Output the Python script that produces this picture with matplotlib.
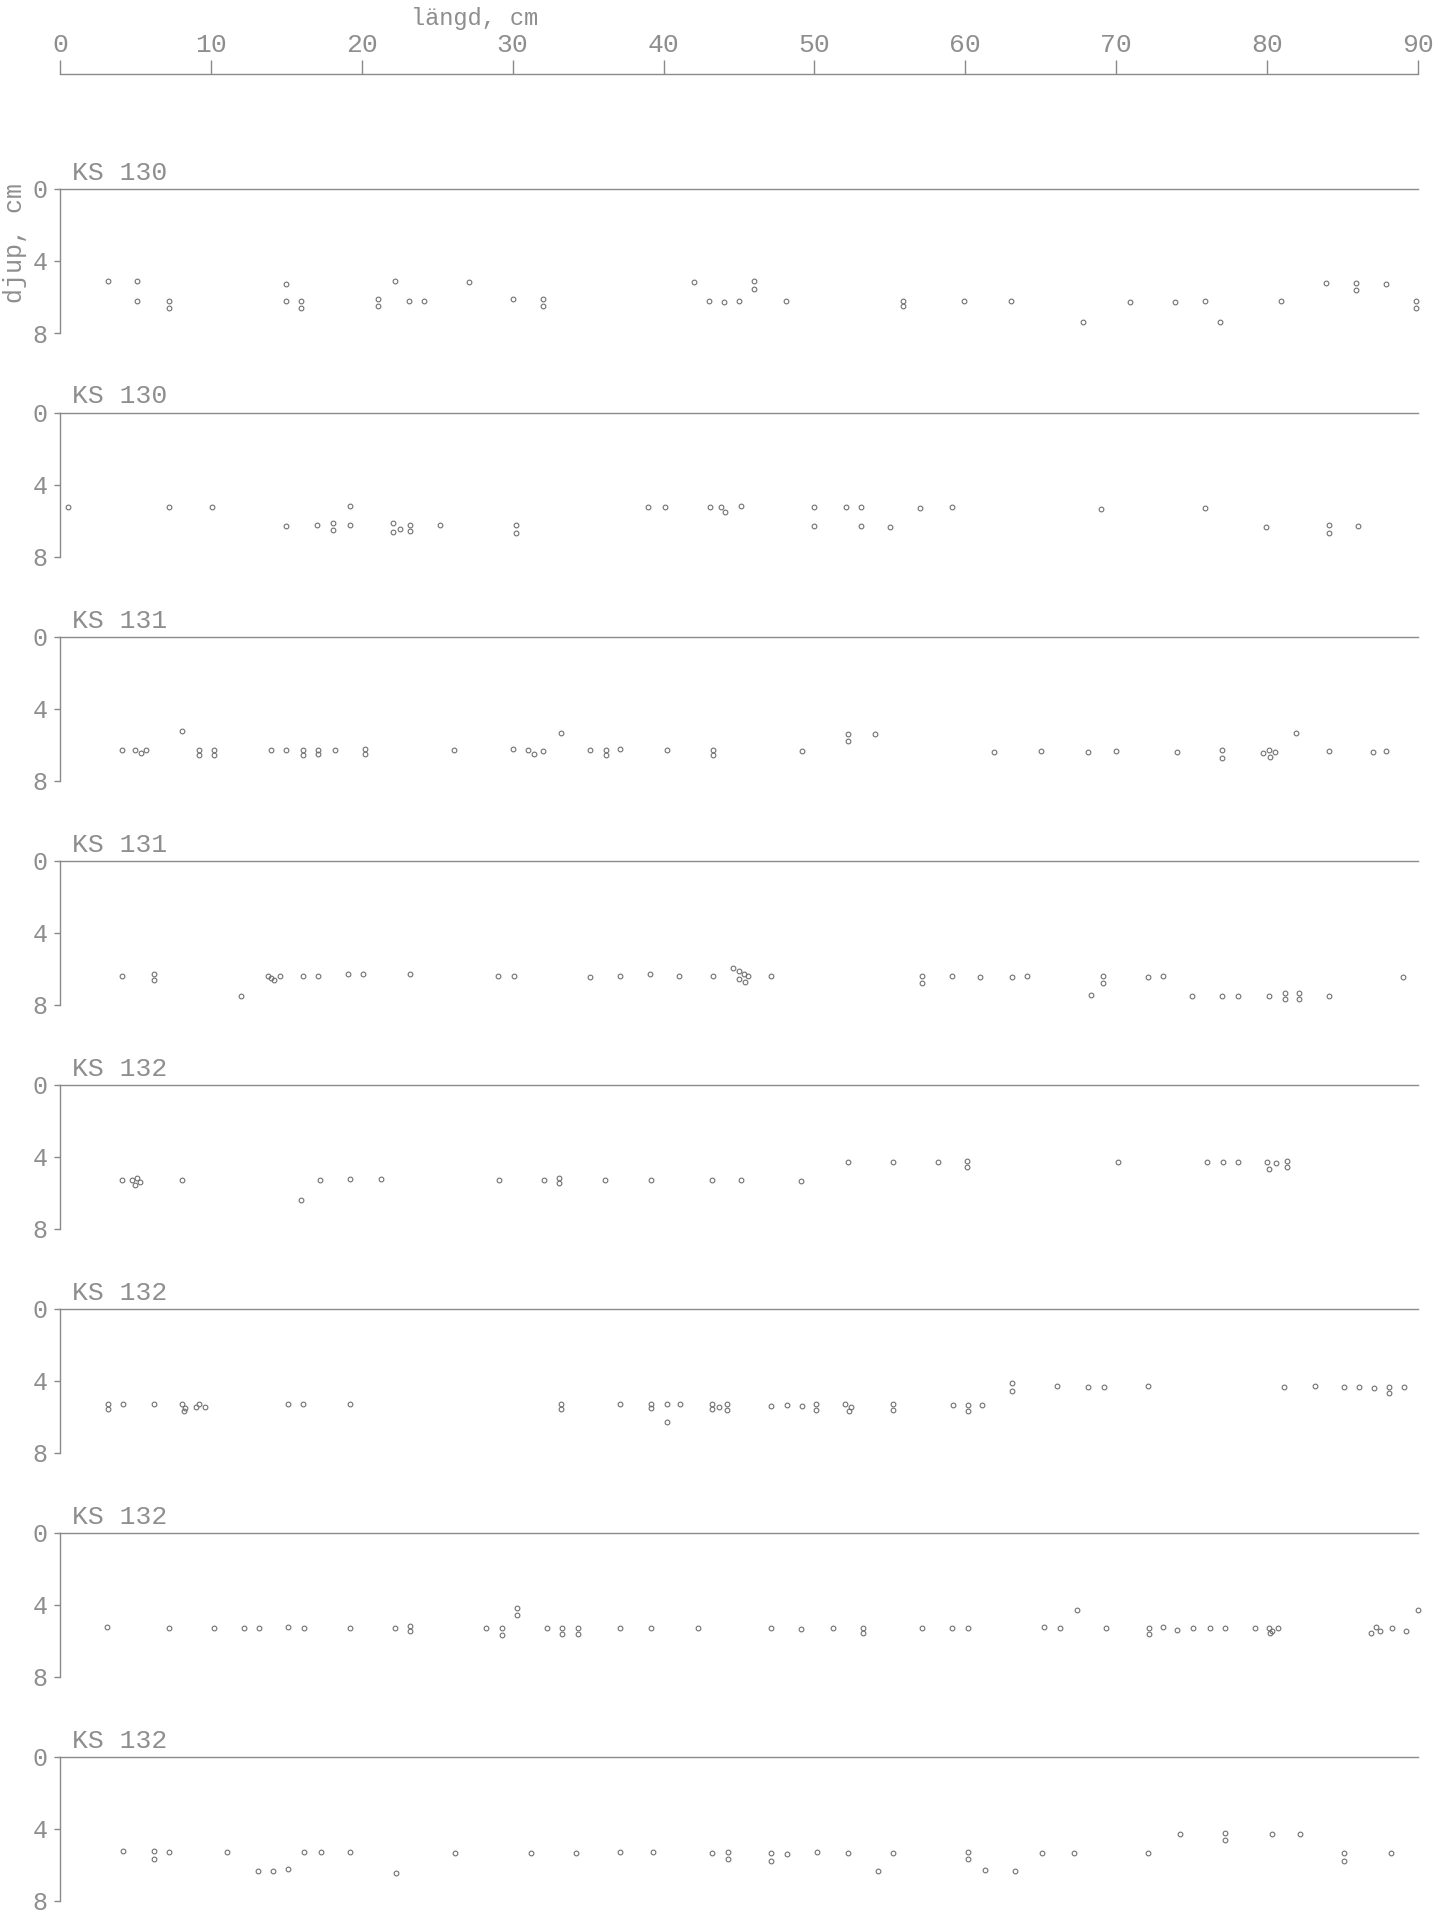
import matplotlib
matplotlib.use("Agg")
import matplotlib.pyplot as plt

# Core profiles: horizontal position (cm along core) and depth (cm)
PANEL_LABELS = ["KS 130", "KS 130", "KS 131", "KS 131",
                "KS 132", "KS 132", "KS 132", "KS 132"]

p1_x = [3.2, 5.1, 5.1, 7.2, 7.2, 15.0, 15.0, 16.0, 16.0, 21.1, 21.1, 22.2, 23.1, 24.1,
        27.1, 30.0, 32.0, 32.0, 42.0, 43.0, 44.0, 45.0, 46.0, 46.0, 48.1, 55.9, 55.9,
        59.9, 63.0, 67.8, 70.9, 73.9, 75.9, 76.9, 80.9, 83.9, 85.9, 85.9, 87.9, 89.9, 89.9]
p1_d = [5.1, 5.1, 6.2, 6.2, 6.6, 5.3, 6.2, 6.2, 6.6, 6.1, 6.5, 5.1, 6.2, 6.2,
        5.15, 6.1, 6.1, 6.5, 5.15, 6.2, 6.3, 6.2, 5.1, 5.55, 6.2, 6.2, 6.5,
        6.2, 6.2, 7.4, 6.3, 6.3, 6.2, 7.4, 6.2, 5.2, 5.2, 5.6, 5.3, 6.2, 6.6]

p2_x = [0.5, 7.2, 10.1, 15.0, 17.0, 18.1, 18.1, 19.2, 19.2, 22.1, 22.1, 22.5, 23.2, 23.2,
        25.2, 30.2, 30.2, 39.0, 40.1, 43.1, 43.8, 44.1, 45.1, 50.0, 50.0, 52.1, 53.1, 53.1,
        55.0, 57.0, 59.1, 69.0, 75.9, 79.9, 84.1, 84.1, 86.0]
p2_d = [5.2, 5.2, 5.2, 6.3, 6.2, 6.1, 6.5, 5.15, 6.2, 6.1, 6.6, 6.45, 6.2, 6.55,
        6.2, 6.25, 6.65, 5.2, 5.2, 5.2, 5.2, 5.5, 5.15, 5.2, 6.3, 5.2, 5.2, 6.3,
        6.35, 5.3, 5.2, 5.35, 5.3, 6.35, 6.2, 6.65, 6.3]

p3_x = [4.1, 5.0, 5.4, 5.7, 8.1, 9.2, 9.2, 10.2, 10.2, 14.0, 15.0, 16.1, 16.1, 17.1, 17.1,
        18.2, 20.2, 20.2, 26.1, 30.0, 31.0, 31.4, 32.0, 33.2, 35.1, 36.2, 36.2, 37.1, 40.2,
        43.3, 43.3, 49.2, 52.2, 52.2, 54.0, 61.9, 65.0, 68.1, 70.0, 74.0, 77.0, 77.0, 79.7,
        80.1, 80.2, 80.5, 81.9, 84.1, 87.0, 87.9]
p3_d = [6.3, 6.3, 6.45, 6.3, 5.2, 6.25, 6.55, 6.25, 6.55, 6.3, 6.3, 6.25, 6.55, 6.25, 6.5,
        6.3, 6.2, 6.5, 6.3, 6.2, 6.3, 6.5, 6.35, 5.35, 6.3, 6.25, 6.55, 6.2, 6.3,
        6.25, 6.55, 6.35, 5.4, 5.8, 5.4, 6.4, 6.35, 6.4, 6.35, 6.4, 6.3, 6.7, 6.45,
        6.25, 6.65, 6.4, 5.35, 6.35, 6.4, 6.35]

p4_x = [4.1, 6.2, 6.2, 12.0, 13.8, 14.0, 14.2, 14.6, 16.1, 17.1, 19.1, 20.1, 23.2, 29.0,
        30.1, 35.1, 37.1, 39.1, 41.0, 43.3, 44.6, 45.0, 45.3, 45.6, 45.0, 45.4, 47.1, 57.1,
        57.1, 59.1, 61.0, 63.1, 64.1, 68.3, 69.1, 69.1, 72.1, 73.1, 75.0, 77.0, 78.1, 80.1,
        81.2, 81.2, 82.1, 82.1, 84.1, 89.0]
p4_d = [6.4, 6.3, 6.6, 7.5, 6.4, 6.5, 6.6, 6.4, 6.4, 6.4, 6.3, 6.3, 6.3, 6.4,
        6.4, 6.45, 6.4, 6.3, 6.4, 6.4, 5.95, 6.1, 6.3, 6.4, 6.55, 6.7, 6.4, 6.4,
        6.8, 6.4, 6.45, 6.45, 6.4, 7.45, 6.4, 6.8, 6.45, 6.4, 7.5, 7.5, 7.5, 7.5,
        7.35, 7.65, 7.35, 7.65, 7.5, 6.45]

p5_x = [4.1, 4.8, 5.1, 5.3, 5.0, 8.1, 16.0, 17.2, 19.2, 21.3, 29.1, 32.1, 33.1, 33.1,
        36.1, 39.2, 43.2, 45.1, 49.1, 52.2, 55.2, 58.2, 60.1, 60.1, 70.1, 76.0, 77.1,
        78.1, 80.0, 80.1, 80.6, 81.3, 81.3]
p5_d = [5.3, 5.25, 5.15, 5.4, 5.55, 5.3, 6.4, 5.25, 5.2, 5.2, 5.3, 5.3, 5.15, 5.45,
        5.25, 5.25, 5.3, 5.25, 5.35, 4.25, 4.3, 4.3, 4.2, 4.55, 4.3, 4.3, 4.3,
        4.3, 4.3, 4.65, 4.35, 4.2, 4.55]

p6_x = [3.2, 3.2, 4.2, 6.2, 8.1, 8.3, 8.2, 9.0, 9.2, 9.6, 15.1, 16.1, 19.2, 33.2, 33.2,
        37.1, 39.2, 39.2, 40.2, 40.2, 41.1, 43.2, 43.2, 43.7, 44.2, 44.2, 47.1, 48.2, 49.2,
        50.1, 50.1, 52.0, 52.4, 52.3, 55.2, 55.2, 59.2, 60.2, 60.2, 61.1, 63.1, 63.1, 66.1,
        68.1, 69.2, 72.1, 81.1, 83.2, 85.1, 86.1, 87.1, 88.1, 88.1, 89.1]
p6_d = [5.25, 5.55, 5.25, 5.25, 5.25, 5.5, 5.65, 5.45, 5.25, 5.45, 5.25, 5.3, 5.3, 5.25, 5.55,
        5.3, 5.25, 5.5, 5.25, 6.3, 5.25, 5.25, 5.55, 5.45, 5.3, 5.6, 5.4, 5.35, 5.4,
        5.3, 5.6, 5.3, 5.45, 5.65, 5.3, 5.6, 5.35, 5.35, 5.65, 5.35, 4.1, 4.55, 4.3,
        4.35, 4.35, 4.25, 4.35, 4.25, 4.35, 4.35, 4.4, 4.35, 4.65, 4.35]

p7_x = [3.1, 7.2, 10.2, 12.2, 13.2, 15.1, 16.2, 19.2, 22.2, 23.2, 23.2, 28.2, 29.3, 29.3,
        30.3, 30.3, 32.3, 33.3, 33.3, 34.3, 34.3, 37.1, 39.2, 42.3, 47.1, 49.1, 51.2, 53.2,
        53.2, 57.1, 59.1, 60.2, 65.2, 66.3, 67.4, 69.3, 72.2, 72.2, 73.1, 74.0, 75.1, 76.2,
        77.2, 79.2, 80.1, 80.3, 80.2, 80.7, 86.9, 87.2, 87.5, 88.3, 89.2, 90.0]
p7_d = [5.2, 5.3, 5.25, 5.25, 5.25, 5.2, 5.25, 5.25, 5.3, 5.15, 5.45, 5.25, 5.25, 5.65,
        4.15, 4.55, 5.25, 5.25, 5.6, 5.25, 5.6, 5.3, 5.3, 5.25, 5.3, 5.35, 5.25, 5.25,
        5.55, 5.3, 5.3, 5.3, 5.2, 5.25, 4.3, 5.3, 5.25, 5.6, 5.2, 5.4, 5.3, 5.3,
        5.3, 5.3, 5.25, 5.45, 5.55, 5.3, 5.55, 5.2, 5.45, 5.3, 5.45, 4.3]

p8_x = [4.2, 6.2, 6.2, 7.2, 11.1, 13.1, 14.1, 15.1, 16.2, 17.3, 19.2, 22.3, 26.2, 31.2,
        34.2, 37.1, 39.3, 43.2, 44.3, 44.3, 47.1, 47.1, 48.2, 50.2, 52.2, 54.2, 55.2, 60.2,
        60.2, 61.3, 63.3, 65.1, 67.2, 72.1, 74.2, 77.2, 77.2, 80.3, 82.2, 85.1, 85.1, 88.2]
p8_d = [5.2, 5.2, 5.65, 5.3, 5.3, 6.35, 6.35, 6.2, 5.3, 5.3, 5.3, 6.45, 5.35, 5.35,
        5.35, 5.3, 5.3, 5.35, 5.3, 5.65, 5.35, 5.75, 5.4, 5.3, 5.35, 6.35, 5.35, 5.3,
        5.65, 6.25, 6.35, 5.35, 5.35, 5.35, 4.25, 4.2, 4.6, 4.25, 4.25, 5.35, 5.75, 5.35]

LENGTH_TICKS = [0, 10, 20, 30, 40, 50, 60, 70, 80, 90]
DEPTH_TICKS = [0, 4, 8]

panels = [(p1_x, p1_d), (p2_x, p2_d), (p3_x, p3_d), (p4_x, p4_d),
          (p5_x, p5_d), (p6_x, p6_d), (p7_x, p7_d), (p8_x, p8_d)]

W, H = 1450, 1918
FONT = "Liberation Mono"
TXT = "#8e8e8e"
LINE = "#8a8a8a"
DOT = "#707070"

fig = plt.figure(figsize=(W / 100, H / 100), dpi=100)
fig.patch.set_facecolor("white")

x0, x1 = 60, 1418


def frac(px_left, px_top, px_w, px_h):
    return [px_left / W, 1 - (px_top + px_h) / H, px_w / W, px_h / H]


# top length scale
ax_top = fig.add_axes(frac(x0, 74, x1 - x0, 0.5))
ax_top.set_xlim(0, 90)
ax_top.set_ylim(0, 1)
for s in ["bottom", "left", "right"]:
    ax_top.spines[s].set_visible(False)
ax_top.spines["top"].set_color(LINE)
ax_top.spines["top"].set_linewidth(1.0)
ax_top.xaxis.set_ticks_position("top")
ax_top.set_xticks(LENGTH_TICKS)
ax_top.set_xticklabels([str(t) for t in LENGTH_TICKS])
ax_top.tick_params(axis="x", direction="out", length=10, width=1.0, color=LINE,
                   pad=2, labelsize=19, labelcolor=TXT)
for lab in ax_top.get_xticklabels():
    lab.set_fontfamily(FONT)
ax_top.set_yticks([])
ax_top.patch.set_alpha(0)

fig.text(475 / W, 1 - 19 / H, "längd, cm", ha="center", va="center",
         fontsize=17, color=TXT, family=FONT)

# core panels
top0, step, ph = 189, 224, 144
for k, ((xs, ds), label) in enumerate(zip(panels, PANEL_LABELS)):
    top = top0 + step * k
    ax = fig.add_axes(frac(x0, top, x1 - x0, ph))
    ax.patch.set_alpha(0)
    ax.set_xlim(0, 90)
    ax.set_ylim(8, 0)
    ax.spines["right"].set_visible(False)
    ax.spines["bottom"].set_visible(False)
    for s in ["left", "top"]:
        ax.spines[s].set_color(LINE)
        ax.spines[s].set_linewidth(1.0)
    ax.set_xticks([])
    ax.set_yticks(DEPTH_TICKS)
    ax.set_yticklabels([str(t) for t in DEPTH_TICKS])
    ax.tick_params(axis="y", direction="out", length=4, width=1.0, color=LINE,
                   pad=5, labelsize=18, labelcolor=TXT)
    for lab in ax.get_yticklabels():
        lab.set_fontfamily(FONT)
    ax.plot(xs, ds, linestyle="none", marker="o", markersize=3.4,
            markerfacecolor="none", markeredgecolor=DOT, markeredgewidth=0.8,
            clip_on=False)
    ax.text(0.8, -0.25, label, ha="left", va="bottom", fontsize=19,
            color=TXT, family=FONT)

fig.text(15 / W, 1 - 243 / H, "djup, cm", rotation=90, ha="center",
         va="center", fontsize=18, color=TXT, family=FONT)

fig.savefig("out.png", dpi=100, facecolor="white")
